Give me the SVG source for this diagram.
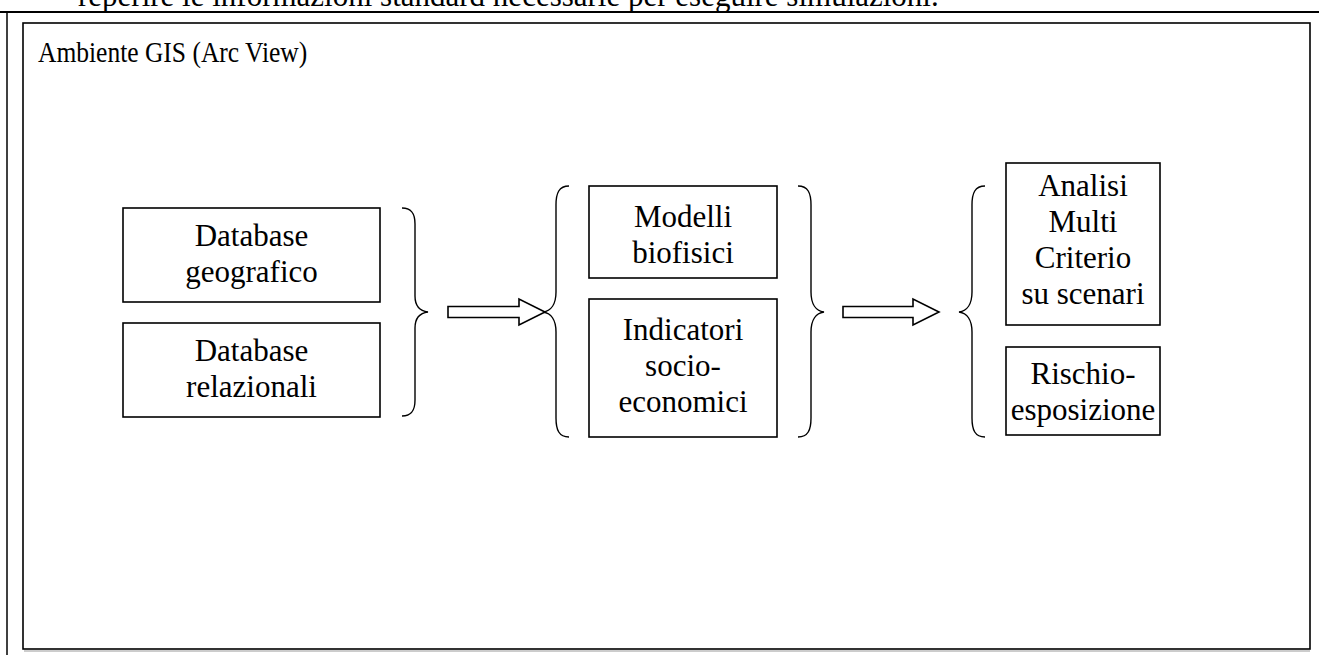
<svg xmlns="http://www.w3.org/2000/svg" width="1319" height="655" viewBox="0 0 1319 655">
<style>
text{font-family:"Liberation Serif","Times New Roman",serif;font-size:31px;fill:#000}
.c{text-anchor:middle}
.box{fill:#fff;stroke:#000;stroke-width:1.6}
.br{fill:none;stroke:#000;stroke-width:1.4}
.ar{fill:#fff;stroke:#000;stroke-width:1.6;stroke-linejoin:miter}
</style>
<rect width="1319" height="655" fill="#fff"/>
<text x="78" y="6">reperire le informazioni standard necessarie per eseguire simulazioni.</text>
<line x1="0" y1="12" x2="1319" y2="12" stroke="#000" stroke-width="2"/>
<line x1="7" y1="12" x2="7" y2="655" stroke="#000" stroke-width="1.5"/>
<g id="frame">
<rect x="23" y="23" width="1287" height="626" fill="none" stroke="#000" stroke-width="1.6"/>
<line x1="24" y1="651" x2="1310" y2="651" stroke="#999" stroke-width="1.2"/>
<text transform="translate(38,62) scale(0.88,1)" style="font-size:29px">Ambiente GIS (Arc View)</text>
</g>
<g id="db-geo">
<rect class="box" x="123" y="208" width="257" height="94"/>
<text class="c" x="251.5" y="246">Database</text>
<text class="c" x="251.5" y="282">geografico</text>
</g>
<g id="db-rel">
<rect class="box" x="123" y="323" width="257" height="94"/>
<text class="c" x="251.5" y="361">Database</text>
<text class="c" x="251.5" y="397">relazionali</text>
</g>
<g id="mod-bio">
<rect class="box" x="589" y="186" width="188" height="92"/>
<text class="c" x="683" y="227">Modelli</text>
<text class="c" x="683" y="263">biofisici</text>
</g>
<g id="ind-soc">
<rect class="box" x="589" y="299" width="188" height="138"/>
<text class="c" x="683" y="340">Indicatori</text>
<text class="c" x="683" y="376">socio-</text>
<text class="c" x="683" y="412">economici</text>
</g>
<g id="amc">
<rect class="box" x="1006" y="163" width="154" height="162"/>
<text class="c" x="1083" y="196">Analisi</text>
<text class="c" x="1083" y="232">Multi</text>
<text class="c" x="1083" y="268">Criterio</text>
<text class="c" x="1083" y="304">su scenari</text>
</g>
<g id="rischio">
<rect class="box" x="1006" y="347" width="154" height="88"/>
<text class="c" x="1083" y="384">Rischio-</text>
<text class="c" x="1083" y="420">esposizione</text>
</g>
<g id="connectors">
<path class="br" d="M402,208 C412,208 415,214 415,224 L415,296 C415,306 420,311 428,312 C420,313 415,318 415,328 L415,400 C415,410 412,416 402,416"/>
<path class="ar" d="M448,306.5 L519,306.5 L519,299 L545,312 L519,325 L519,317.5 L448,317.5 Z"/>
<path class="br" d="M569,186 C559,186 556,193 556,205 L556,292 C556,304 551,311 543,312 C551,313 556,320 556,332 L556,418 C556,430 559,437 569,437"/>
<path class="br" d="M798,186 C808,186 811,193 811,205 L811,292 C811,304 816,311 824,312 C816,313 811,320 811,332 L811,418 C811,430 808,437 798,437"/>
<path class="ar" d="M843,306.5 L913,306.5 L913,299 L939,312 L913,325 L913,317.5 L843,317.5 Z"/>
<path class="br" d="M985,186 C975,186 972,193 972,205 L972,292 C972,304 967,311 959,312 C967,313 972,320 972,332 L972,418 C972,430 975,437 985,437"/>
</g>
</svg>
